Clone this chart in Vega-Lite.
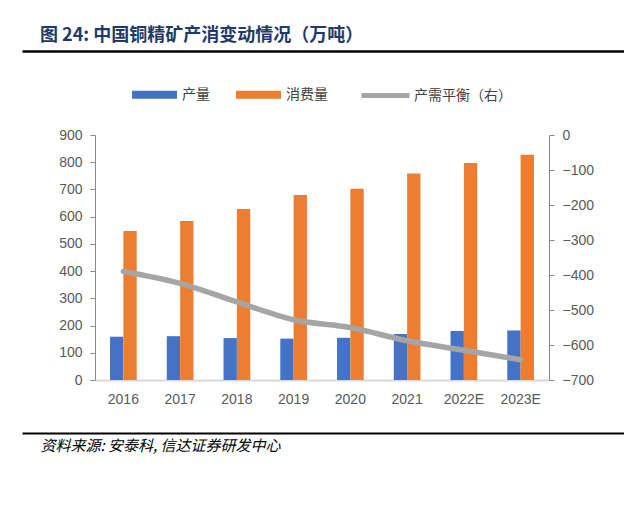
{
  "$schema": "https://vega.github.io/schema/vega-lite/v6.json",
  "width": 602,
  "height": 245,
  "autosize": {"type": "none"},
  "padding": {"left": 22, "top": 135, "right": 0, "bottom": 139},
  "background": "white",
  "config": {
    "view": {"stroke": null},
    "axis": {"grid": false, "labelFont": "Liberation Sans", "labelFontSize": 14, "labelColor": "#595959", "domainColor": "#898989", "tickColor": "#898989", "tickSize": 5, "labelPadding": 8},
    "legend": {"labelFont": "Noto Sans CJK SC", "labelFontSize": 14, "labelColor": "#404040", "padding": 0, "title": null}
  },
  "title": {"text": "图 24:  中国铜精矿产消变动情况（万吨）", "anchor": "start", "frame": "group", "dx": 18, "offset": 6, "font": "Noto Sans CJK SC", "fontSize": 18, "fontWeight": "bold", "color": "#1F3A68"},
  "datasets": {
    "copper": [
      {"year": "2016", "产量": 159, "消费量": 547, "balance": -390},
      {"year": "2017", "产量": 161, "消费量": 584, "balance": -424},
      {"year": "2018", "产量": 154, "消费量": 628, "balance": -477},
      {"year": "2019", "产量": 152, "消费量": 680, "balance": -528},
      {"year": "2020", "产量": 155, "消费量": 703, "balance": -550},
      {"year": "2021", "产量": 169, "消费量": 759, "balance": -588},
      {"year": "2022E", "产量": 180, "消费量": 797, "balance": -615},
      {"year": "2023E", "产量": 182, "消费量": 827, "balance": -642}
    ],
    "frame": [{"v": 0}, {"v": 1}]
  },
  "layer": [
    {
      "data": {"name": "copper"},
      "layer": [
        {
          "transform": [{"fold": ["产量", "消费量"], "as": ["series", "value"]}],
          "mark": {"type": "bar"},
          "encoding": {
            "x": {"field": "year", "type": "nominal", "sort": null, "scale": {"range": [73, 527], "paddingInner": 0.53, "paddingOuter": 0.265}, "axis": {"labelAngle": 0, "title": null, "ticks": false, "domainColor": "#D9D9D9", "domainWidth": 2, "labelPadding": 12}},
            "xOffset": {"field": "series", "type": "nominal", "sort": ["产量", "消费量"]},
            "y": {"field": "value", "type": "quantitative", "scale": {"domain": [0, 900]}, "axis": {"orient": "left", "offset": -73, "values": [0, 100, 200, 300, 400, 500, 600, 700, 800, 900], "title": null}},
            "color": {"field": "series", "type": "nominal", "scale": {"domain": ["产量", "消费量"], "range": ["#4472C4", "#ED7D31"]}, "legend": {"orient": "none", "legendX": 110, "legendY": -63, "direction": "horizontal", "symbolType": "M-1,-0.178H1V0.178H-1Z", "symbolSize": 2025, "symbolStrokeWidth": 0, "labelOffset": 5, "columnPadding": 26}}
          }
        },
        {
          "mark": {"type": "line", "interpolate": "monotone", "strokeWidth": 5.5, "strokeCap": "round"},
          "encoding": {
            "x": {"field": "year", "type": "nominal", "sort": null},
            "y": {"field": "balance", "type": "quantitative", "scale": {"domain": [-700, 0]}, "axis": {"orient": "right", "offset": -75, "values": [0, -100, -200, -300, -400, -500, -600, -700], "title": null}},
            "stroke": {"datum": "产需平衡（右）", "scale": {"range": ["#A5A5A5"]}, "legend": {"orient": "none", "legendX": 337, "legendY": -66, "symbolType": "stroke", "symbolSize": 2304, "symbolStrokeWidth": 5, "labelOffset": 2}}
          }
        }
      ],
      "resolve": {"scale": {"y": "independent"}}
    },
    {
      "data": {"name": "frame"},
      "mark": {"type": "point", "opacity": 0},
      "encoding": {
        "x": {"field": "v", "type": "quantitative", "scale": {"domain": [0, 1]}, "axis": {"orient": "top", "offset": 84, "labels": false, "ticks": false, "title": null, "domainColor": "#000000", "domainWidth": 2.5}}
      }
    },
    {
      "data": {"name": "frame"},
      "mark": {"type": "point", "opacity": 0},
      "encoding": {
        "x": {"field": "v", "type": "quantitative", "scale": {"domain": [0, 1]}, "axis": {"orient": "bottom", "offset": 53, "labels": false, "ticks": false, "domainColor": "#000000", "domainWidth": 2, "title": "资料来源: 安泰科, 信达证券研发中心", "titleX": 18, "titleY": 5, "titleAlign": "left", "titleBaseline": "top", "titleFont": "Noto Sans CJK SC", "titleFontSize": 15, "titleFontStyle": "italic", "titleFontWeight": "normal", "titleColor": "#000000"}}
      }
    }
  ],
  "resolve": {"scale": {"x": "independent"}, "axis": {"x": "independent"}}
}
